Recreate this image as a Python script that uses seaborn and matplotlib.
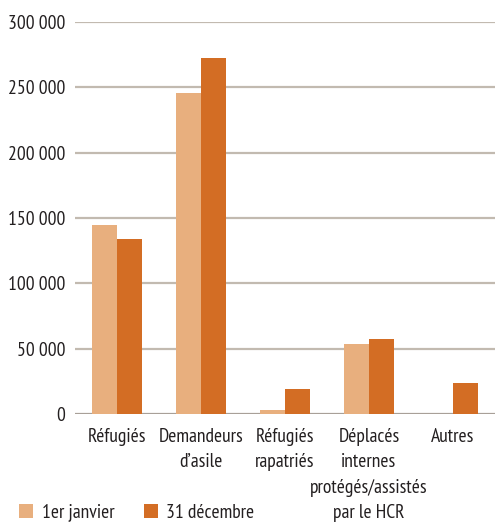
import matplotlib
matplotlib.use("Agg")
import matplotlib.pyplot as plt
import seaborn as sns
import pandas as pd
from matplotlib.patches import Patch
from matplotlib.ticker import FuncFormatter

categories = ["Réfugiés", "Demandeurs\nd’asile", "Réfugiés\nrapatriés",
              "Déplacés\ninternes\nprotégés/assistés\npar le HCR", "Autres"]
series = ["1er janvier", "31 décembre"]
jan_values = [145000, 245500, 3300, 53700, 500]
dec_values = [134000, 272000, 19300, 57500, 24000]
yticks = [0, 50000, 100000, 150000, 200000, 250000, 300000]
colors = {"1er janvier": "#E8AF7E", "31 décembre": "#D36D24"}

df = pd.DataFrame({
    "cat": categories * 2,
    "serie": [series[0]] * len(categories) + [series[1]] * len(categories),
    "val": jan_values + dec_values,
})

sns.set_theme(style="white")
plt.rcParams['font.family'] = ['PT Sans Narrow', 'DejaVu Sans']
FS = 14
TXT = "#231F20"

fig = plt.figure(figsize=(4.95, 5.24), dpi=100)
ax = fig.add_axes([75/495, 1 - 414.3/524, 1 - 75/495, (414.3 - 21.7)/524])

sns.barplot(data=df, x="cat", y="val", hue="serie", palette=colors,
            width=0.6, gap=0, saturation=1, ax=ax, legend=False, zorder=3,
            linewidth=0, edgecolor="none")

ax.set_ylim(0, 300000)
ax.set_xlim(-0.5, 4.5)
ax.set_yticks(yticks)
ax.yaxis.set_major_formatter(FuncFormatter(lambda v, p: f"{int(v):,}".replace(",", " ")))
for y in yticks:
    ax.axhline(y, color="#C2BAB0" if y else "#A8A098", lw=1.6, zorder=1)
for s in ax.spines.values():
    s.set_visible(False)
ax.set_xlabel("")
ax.set_ylabel("")
ax.tick_params(axis="y", length=0, pad=7, labelsize=FS, colors=TXT)
ax.tick_params(axis="x", length=0, pad=10, labelsize=FS, colors=TXT)
for lab in ax.get_xticklabels():
    lab.set_linespacing(1.52)

handles = [Patch(facecolor=colors[s], edgecolor="none", label=s) for s in series]
fig.legend(handles=handles, loc="center left", bbox_to_anchor=(19/495, 1 - 512.5/524),
           ncol=2, frameon=False, fontsize=FS, handlelength=0.72, handleheight=0.72,
           handletextpad=0.45, columnspacing=1.5, labelcolor=TXT,
           borderaxespad=0, borderpad=0)

fig.savefig("out.png", dpi=100)
